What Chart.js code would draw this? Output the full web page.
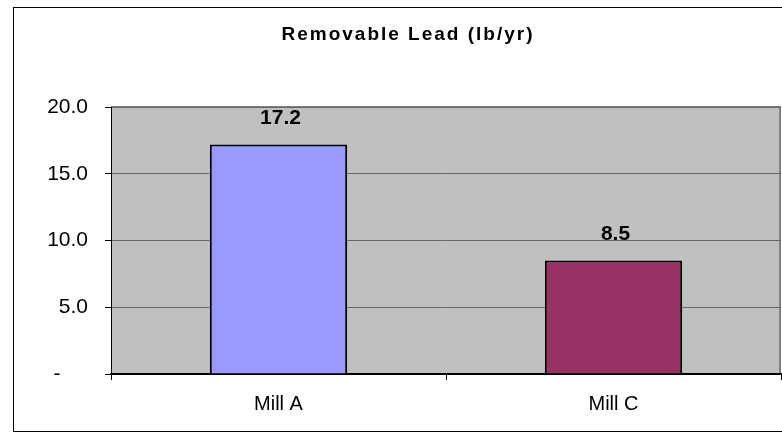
<!DOCTYPE html>
<html lang="en">
<head>
    <meta charset="UTF-8">
    <title>Removable Lead</title>
    <script src="https://cdn.jsdelivr.net/npm/chart.js"></script>
    <style>
        body { margin: 0; background: #fff; }
        #wrap { width: 782px; height: 440px; }
    </style>
</head>
<body>
    <div id="wrap">
        <canvas id="leadChart" width="782" height="440"></canvas>
    </div>

    <script>
        // data
        const mills = ['Mill A', 'Mill C'];
        const leadValues = [17.2, 8.5];
        const barColors = ['#9999FF', '#993366'];
        const chartTitle = 'Removable Lead (lb/yr)';

        const FONT = '"Liberation Sans", Arial, sans-serif';

        // frame, grey plot area and its grey top/right edges
        const backdrop = {
            id: 'backdrop',
            beforeDraw(chart) {
                const ctx = chart.ctx;
                const a = chart.chartArea;
                ctx.save();
                ctx.fillStyle = '#fff';
                ctx.fillRect(0, 0, chart.width, chart.height);
                ctx.strokeStyle = '#000';
                ctx.lineWidth = 1;
                ctx.strokeRect(13.5, 7.5, chart.width + 20, 424);
                ctx.fillStyle = '#C0C0C0';
                ctx.fillRect(a.left, a.top, a.right - a.left, a.bottom - a.top);
                ctx.strokeStyle = '#808080';
                ctx.lineWidth = 2;
                ctx.beginPath();
                ctx.moveTo(a.left, a.top);
                ctx.lineTo(a.right - 1, a.top);
                ctx.lineTo(a.right - 1, a.bottom);
                ctx.stroke();
                ctx.restore();
            },
            afterDraw(chart) {
                // title, spaced out like the original
                const ctx = chart.ctx;
                ctx.save();
                ctx.font = 'bold 19px ' + FONT;
                ctx.letterSpacing = '2px';
                ctx.fillStyle = '#000';
                ctx.textAlign = 'center';
                ctx.textBaseline = 'middle';
                ctx.fillText(chartTitle, 408, 35);
                ctx.restore();
            }
        };

        // value labels above the bars
        const valueLabels = {
            id: 'valueLabels',
            afterDatasetsDraw(chart) {
                const ctx = chart.ctx;
                const meta = chart.getDatasetMeta(0);
                ctx.save();
                ctx.font = 'bold 21px ' + FONT;
                ctx.fillStyle = '#000';
                ctx.textAlign = 'center';
                ctx.textBaseline = 'bottom';
                meta.data.forEach((bar, i) => {
                    ctx.fillText(leadValues[i].toFixed(1), bar.x + 2, bar.y - 16);
                });
                ctx.restore();
            }
        };

        const ctx = document.getElementById('leadChart').getContext('2d');
        new Chart(ctx, {
            type: 'bar',
            data: {
                labels: mills,
                datasets: [{
                    data: leadValues,
                    backgroundColor: barColors,
                    borderColor: '#000',
                    borderWidth: 2,
                    barPercentage: 0.41,
                    categoryPercentage: 1
                }]
            },
            options: {
                responsive: false,
                animation: false,
                layout: { padding: { top: 107, right: 1, left: 0, bottom: 0 } },
                plugins: {
                    legend: { display: false },
                    tooltip: { enabled: false },
                    title: { display: false }
                },
                scales: {
                    x: {
                        afterFit: s => { s.height = 66; },
                        grid: {
                            offset: true,
                            drawOnChartArea: false,
                            drawTicks: true,
                            tickLength: 6,
                            color: '#000'
                        },
                        border: { color: '#000', width: 2 },
                        ticks: {
                            padding: 12,
                            color: '#000',
                            font: { family: FONT, size: 20 }
                        }
                    },
                    y: {
                        min: 0,
                        max: 20,
                        afterFit: s => { s.width = 111; },
                        grid: {
                            color: '#666',
                            lineWidth: 1,
                            tickLength: 6,
                            tickColor: '#000'
                        },
                        border: { color: '#000', width: 1 },
                        ticks: {
                            stepSize: 5,
                            padding: 17,
                            color: '#000',
                            font: { family: FONT, size: 21 },
                            callback: v => v === 0 ? '-\u2007\u2007\u2009' : v.toFixed(1)
                        }
                    }
                }
            },
            plugins: [backdrop, valueLabels]
        });
    </script>
</body>
</html>
